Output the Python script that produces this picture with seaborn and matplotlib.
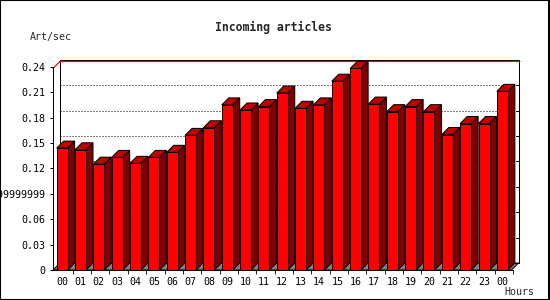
import numpy as np
import pandas as pd
import matplotlib
matplotlib.use("Agg")
import matplotlib.pyplot as plt
from matplotlib.patches import Polygon, Rectangle
from matplotlib.lines import Line2D
import seaborn as sns

# ---- data ----
hour_labels = ["00", "01", "02", "03", "04", "05", "06", "07", "08", "09", "10", "11",
               "12", "13", "14", "15", "16", "17", "18", "19", "20", "21", "22", "23", "00"]
art_per_sec = [0.144, 0.142, 0.125, 0.133, 0.126, 0.133, 0.139, 0.159, 0.168, 0.195,
               0.189, 0.193, 0.209, 0.191, 0.195, 0.223, 0.238, 0.196, 0.187, 0.193,
               0.187, 0.160, 0.173, 0.173, 0.211]
y_ticks = [0, 0.03, 0.06, 0.09, 0.12, 0.15, 0.18, 0.21, 0.24]
y_tick_labels = ["0", "0.03", "0.06", "0.0899999999", "0.12", "0.15", "0.18", "0.21", "0.24"]
title = "Incoming articles"
y_label = "Art/sec"
x_label = "Hours"

FRONT = "#ff0000"
SIDE = "#800000"
TOP = "#c00000"
FLOOR = "#808080"
MONO = "DejaVu Sans Mono"
PX = 0.72  # one pixel in points at dpi 100

sns.set_style("white")
plt.rcParams["font.family"] = [MONO]

W, H = 550, 300
fig = plt.figure(figsize=(W / 100, H / 100), dpi=100)
fig.patch.set_facecolor("white")
ax = fig.add_axes([53 / W, 30 / H, 460 / W, 203.2 / H])
ax.set_facecolor("none")

df = pd.DataFrame({"pos": np.arange(len(art_per_sec)), "val": art_per_sec})
sns.barplot(data=df, x="pos", y="val", color=FRONT, saturation=1, width=0.6,
            edgecolor="black", linewidth=PX, ax=ax, zorder=3)

ax.set_ylim(0, 0.24)
ax.set_xlim(-0.5, len(art_per_sec) - 0.5)
xmin, xmax = ax.get_xlim()

# depth offset: 7 px right, 7 px up converted to data units
inv = ax.transData.inverted()
p0 = inv.transform((0, 0))
p1 = inv.transform((7, 7))
dx, dy = p1[0] - p0[0], p1[1] - p0[1]

# floor
ax.add_patch(Polygon([(xmin, 0), (xmax, 0), (xmax + dx, dy), (xmin + dx, dy)],
                     closed=True, facecolor=FLOOR, edgecolor="black", linewidth=PX,
                     clip_on=False, zorder=0.5))
# back wall gridlines
for t in y_ticks[1:-1]:
    ax.add_line(Line2D([xmin + dx, xmax + dx], [t + dy, t + dy], color="black",
                       linewidth=PX, linestyle=(0, (1, 2)), clip_on=False, zorder=0.6))
# back wall frame
ax.add_patch(Rectangle((xmin + dx, dy), xmax - xmin, y_ticks[-1], facecolor="none",
                       edgecolor="black", linewidth=PX, clip_on=False, zorder=0.7))
# right back ticks
tick_dx = inv.transform((3, 0))[0] - p0[0]
for t in y_ticks[1:-1]:
    ax.add_line(Line2D([xmax + dx - tick_dx, xmax + dx], [t + dy, t + dy], color="black",
                       linewidth=PX, clip_on=False, zorder=0.7))
# max line (red)
vmax = max(art_per_sec)
ax.add_line(Line2D([xmin, xmin + dx, xmax + dx], [vmax, vmax + dy, vmax + dy],
                   color="red", linewidth=PX * 1.2, clip_on=False, zorder=0.8))

# 3D sides and tops from the drawn bars
for p in list(ax.patches):
    if not isinstance(p, Rectangle) or p.get_height() <= 0 or p.get_zorder() != 3:
        continue
    x0 = p.get_x()
    w = p.get_width()
    h = p.get_height()
    x1 = x0 + w
    side = Polygon([(x1, 0), (x1, h), (x1 + dx, h + dy), (x1 + dx, dy)], closed=True,
                   facecolor=SIDE, edgecolor="black", linewidth=PX, clip_on=False, zorder=2.9)
    top = Polygon([(x0, h), (x1, h), (x1 + dx, h + dy), (x0 + dx, h + dy)], closed=True,
                  facecolor=TOP, edgecolor="black", linewidth=PX, clip_on=False, zorder=2.9)
    ax.add_patch(side)
    ax.add_patch(top)

# axes styling
for s in ["top", "right"]:
    ax.spines[s].set_visible(False)
for s in ["left", "bottom"]:
    ax.spines[s].set_color("black")
    ax.spines[s].set_linewidth(PX)
    ax.spines[s].set_zorder(4)

ax.set_yticks(y_ticks)
ax.set_yticklabels(y_tick_labels, fontsize=7.2, family=MONO)
ax.set_xticks(np.arange(len(hour_labels)))
ax.set_xticklabels(hour_labels, fontsize=7.2, family=MONO)
ax.set_xticks(np.arange(len(hour_labels)) + 0.58, minor=True)
ax.tick_params(axis="y", which="major", left=True, length=3 * PX * 1.0, width=PX,
               direction="out", pad=5 * PX, colors="black")
ax.tick_params(axis="x", which="major", bottom=False, length=0, pad=7 * PX, colors="black")
ax.tick_params(axis="x", which="minor", bottom=True, length=3, width=PX, direction="out")
ax.set_xlabel("")
ax.set_ylabel("")

fig.text(273 / W, 1 - 27 / H, title, ha="center", va="center", fontsize=8.3,
         fontweight="bold", family=MONO)
fig.text(30 / W, 1 - 37 / H, y_label, ha="left", va="center", fontsize=7.2, family=MONO)
fig.text(534 / W, 1 - 292 / H, x_label, ha="right", va="center", fontsize=7.2, family=MONO)

# figure border
fig.patches.append(Rectangle((0, 0), 1 - 1 / W, 1, transform=fig.transFigure,
                             facecolor="none", edgecolor="black", linewidth=1.5,
                             clip_on=False))

fig.savefig("out.png", dpi=100)
